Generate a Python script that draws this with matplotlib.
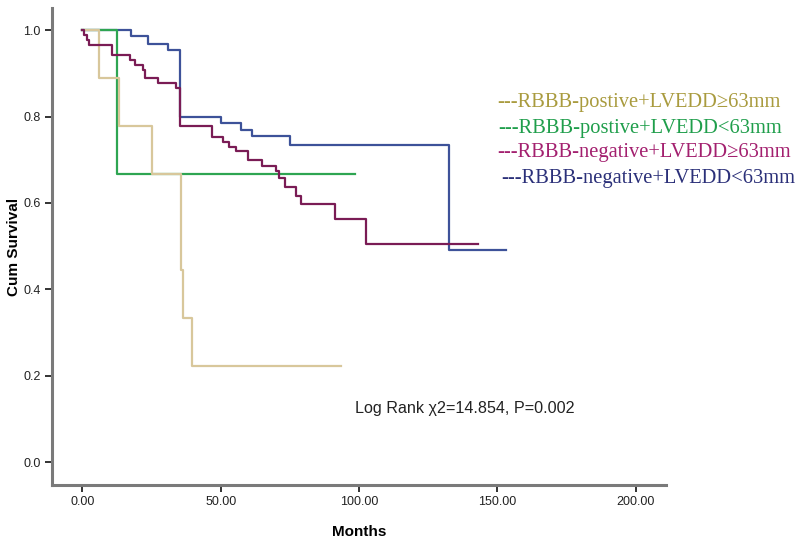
import matplotlib
matplotlib.use("Agg")
import matplotlib.pyplot as plt

# Kaplan-Meier curves (months, cumulative survival)
tan_times = [6.0, 13.2, 25.0, 35.5, 36.5, 39.6]
tan_surv = [0.889, 0.778, 0.667, 0.444, 0.333, 0.222]
tan_end = 93.4

green_times = [12.6]
green_surv = [0.667]
green_end = 98.6

purple_times = [0.5, 1.5, 2.5, 10.6, 17.2, 19.0, 22.0, 22.6, 27.4, 34.0, 35.3,
                47.0, 50.7, 53.0, 55.5, 60.0, 64.8, 70.0, 71.2, 73.2, 77.1,
                78.9, 91.3, 102.5]
purple_surv = [0.988, 0.977, 0.965, 0.942, 0.930, 0.920, 0.907, 0.890, 0.878,
               0.866, 0.777, 0.753, 0.741, 0.730, 0.720, 0.700, 0.686, 0.674,
               0.657, 0.636, 0.616, 0.597, 0.564, 0.506]
purple_end = 143.0

blue_times = [17.6, 23.8, 31.0, 35.3, 50.0, 57.2, 61.2, 75.0, 132.7]
blue_surv = [0.986, 0.969, 0.954, 0.800, 0.785, 0.768, 0.755, 0.735, 0.491]
blue_end = 153.0

legend_labels = ["---RBBB-postive+LVEDD\u226563mm",
                 "---RBBB-postive+LVEDD<63mm",
                 "---RBBB-negative+LVEDD\u226563mm",
                 "---RBBB-negative+LVEDD<63mm"]
legend_colors = ["#a99b3e", "#1f9e4b", "#a3206f", "#2b3079"]

x_ticks = [0, 50, 100, 150, 200]
y_ticks = [0.0, 0.2, 0.4, 0.6, 0.8, 1.0]


def km_steps(times, surv, end):
    xs = [0.0] + list(times) + [end]
    ys = [1.0] + list(surv) + [surv[-1]]
    return xs, ys


fig = plt.figure(figsize=(8, 5.39), dpi=100)
ax = fig.add_axes([0.065, 0.1, 0.7675, 0.885])

curves = [
    (blue_times, blue_surv, blue_end, "#3d5299"),
    (green_times, green_surv, green_end, "#2ea552"),
    (tan_times, tan_surv, tan_end, "#d8c79b"),
    (purple_times, purple_surv, purple_end, "#7a1c55"),
]
for t, s, e, c in curves:
    xs, ys = km_steps(t, s, e)
    ax.step(xs, ys, where="post", color=c, lw=1.6)

ax.set_xlim(-11, 211)
ax.set_ylim(-0.053, 1.051)
ax.set_xticks(x_ticks)
ax.set_xticklabels(["%.2f" % v for v in x_ticks])
ax.set_yticks(y_ticks)
ax.set_yticklabels(["%.1f" % v for v in y_ticks])

for side in ["top", "right"]:
    ax.spines[side].set_visible(False)
for side in ["left", "bottom"]:
    ax.spines[side].set_color("#7a7a7a")
    ax.spines[side].set_linewidth(2.2)

ax.tick_params(axis="both", direction="out", length=5, width=1.4,
               color="#333333", labelsize=9, labelcolor="#222222", pad=3)
for lbl in ax.get_xticklabels() + ax.get_yticklabels():
    lbl.set_family("Liberation Sans")

ax.set_xlabel("Months", fontsize=11, fontweight="bold", family="Liberation Sans", labelpad=12)
ax.set_ylabel("Cum Survival", fontsize=11, fontweight="bold", family="Liberation Sans", labelpad=2)

fig.text(355 / 800, 1 - 409 / 539, "Log Rank \u03c72=14.854, P=0.002",
         fontsize=11.6, family="Liberation Sans", color="#222222", va="center")

# legend drawn as coloured text lines, like the original
legend_y = [103, 128, 153, 178]
legend_x = [497, 498, 497, 501]
for lab, col, yy, xx in zip(legend_labels, legend_colors, legend_y, legend_x):
    fig.text(xx / 800, 1 - yy / 539, lab, color=col, fontsize=14.8,
             family="Liberation Serif", va="center", ha="left")

fig.savefig("out.png", dpi=100)
